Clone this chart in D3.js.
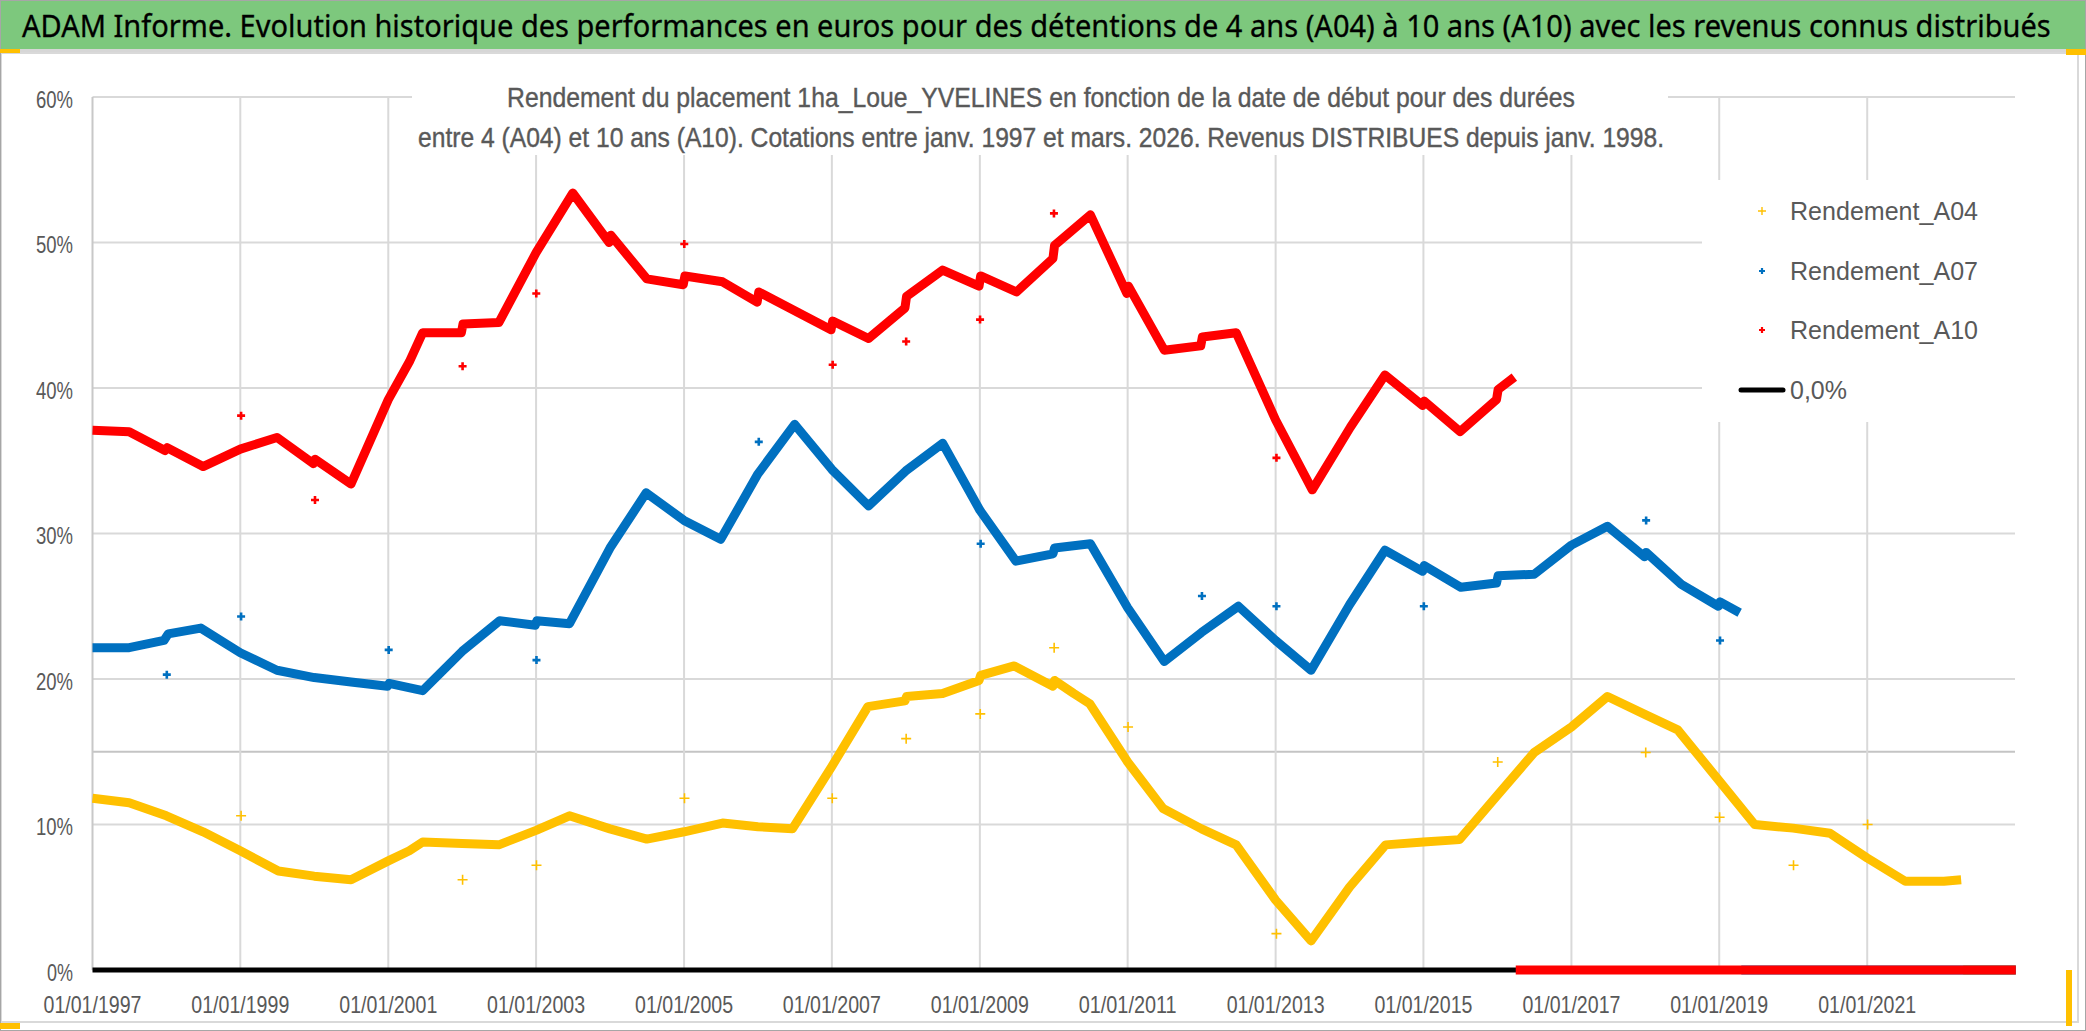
<!DOCTYPE html>
<html><head><meta charset="utf-8">
<script src="https://cdn.jsdelivr.net/npm/d3@7"></script>
<style>html,body{margin:0;padding:0;background:#fff;}svg{display:block;}</style>
</head><body>
<svg id="c" width="2086" height="1031"></svg>
<script>
// ---------- DATA ----------
const titleText = "ADAM Informe. Evolution historique des performances en euros pour des détentions de 4 ans (A04) à 10 ans (A10) avec les revenus connus distribués";
const subtitleLines = [
  "Rendement du placement 1ha_Loue_YVELINES en fonction de la date de début pour des durées",
  "entre 4 (A04) et 10 ans (A10). Cotations entre janv. 1997 et mars. 2026. Revenus DISTRIBUES depuis janv. 1998."
];
const seriesNames = ["Rendement_A04", "Rendement_A07", "Rendement_A10"];
const zeroLabel = "0,0%";
const yTicks = [0, 10, 20, 30, 40, 50, 60];
const extraLine = 15;
const xTickYears = [1997, 1999, 2001, 2003, 2005, 2007, 2009, 2011, 2013, 2015, 2017, 2019, 2021];

const A10 = [
 ["1997-01-01",37.1],["1997-07-01",37.0],["1997-12-25",35.7],["1998-01-05",35.9],["1998-07-01",34.6],
 ["1999-01-01",35.8],["1999-07-01",36.6],["1999-12-28",34.8],["2000-01-05",35.1],["2000-07-01",33.4],
 ["2001-01-01",39.2],["2001-04-15",41.8],["2001-06-20",43.8],["2001-12-28",43.8],["2002-01-05",44.4],
 ["2002-07-01",44.5],["2003-01-01",49.3],["2003-07-01",53.4],["2003-12-28",50.0],["2004-01-05",50.5],
 ["2004-07-01",47.5],["2004-12-28",47.1],["2005-01-05",47.7],["2005-07-10",47.3],["2005-12-28",45.9],
 ["2006-01-05",46.6],["2006-12-28",44.0],["2007-01-05",44.6],["2007-07-01",43.4],["2007-12-28",45.5],
 ["2008-01-05",46.3],["2008-07-01",48.1],["2008-12-28",47.0],["2009-01-05",47.7],["2009-07-01",46.6],
 ["2009-12-28",48.9],["2010-01-05",49.8],["2010-07-01",51.9],["2010-12-28",46.5],["2011-01-05",47.0],
 ["2011-07-01",42.6],["2011-12-28",42.9],["2012-01-05",43.5],["2012-06-20",43.8],["2013-01-01",37.8],
 ["2013-07-01",33.0],["2014-01-05",37.3],["2014-06-25",40.9],["2014-12-28",38.8],["2015-01-05",39.1],
 ["2015-07-01",37.0],["2015-12-28",39.2],["2016-01-05",39.9],["2016-03-25",40.75]
];
const A10_out = [
 ["1999-01-05",38.1],["2000-01-05",32.3],["2002-01-03",41.5],["2003-01-02",46.5],["2005-01-02",49.9],
 ["2007-01-05",41.6],["2008-01-03",43.2],["2009-01-02",44.7],["2010-01-02",52.0],["2013-01-05",35.2]
];
const A07 = [
 ["1997-01-01",22.15],["1997-07-01",22.15],["1997-12-20",22.65],["1998-01-10",23.1],["1998-06-20",23.5],
 ["1999-01-01",21.8],["1999-07-01",20.6],["2000-01-01",20.1],["2000-07-01",19.8],["2000-12-28",19.5],
 ["2001-01-05",19.7],["2001-06-20",19.2],["2002-01-01",21.9],["2002-07-05",24.0],["2002-12-28",23.7],
 ["2003-01-05",24.0],["2003-06-15",23.8],["2004-01-01",29.0],["2004-06-28",32.8],["2005-01-01",30.9],
 ["2005-07-01",29.6],["2006-01-01",34.1],["2006-07-01",37.5],["2007-01-01",34.4],["2007-07-01",31.9],
 ["2008-01-01",34.3],["2008-07-01",36.2],["2009-01-01",31.6],["2009-06-28",28.1],["2009-12-28",28.6],
 ["2010-01-05",29.0],["2010-07-01",29.3],["2011-01-01",24.9],["2011-07-01",21.2],["2012-01-01",23.2],
 ["2012-07-01",25.0],["2013-01-01",22.65],["2013-06-25",20.6],["2014-01-01",25.1],["2014-06-25",28.85],
 ["2014-12-28",27.4],["2015-01-05",27.8],["2015-07-05",26.3],["2015-12-28",26.6],["2016-01-05",27.1],
 ["2016-07-01",27.2],["2017-01-01",29.2],["2017-06-28",30.5],["2017-12-28",28.4],["2018-01-05",28.7],
 ["2018-06-28",26.5],["2018-12-28",25.0],["2019-01-05",25.3],["2019-04-12",24.55]
];
const A07_out = [
 ["1998-01-03",20.3],["1999-01-05",24.3],["2001-01-03",22.0],["2003-01-03",21.3],["2006-01-05",36.3],
 ["2009-01-05",29.3],["2012-01-03",25.7],["2013-01-05",25.0],["2015-01-03",25.0],["2018-01-05",30.9],
 ["2019-01-05",22.65]
];
const A04 = [
 ["1997-01-01",11.8],["1997-07-01",11.5],["1998-01-01",10.6],["1998-07-01",9.5],["1999-01-01",8.2],
 ["1999-07-08",6.8],["2000-01-01",6.45],["2000-07-01",6.2],["2001-01-01",7.5],["2001-04-15",8.2],
 ["2001-06-20",8.8],["2002-01-01",8.7],["2002-07-01",8.6],["2003-01-01",9.6],["2003-06-15",10.6],
 ["2004-01-01",9.7],["2004-07-01",9.0],["2005-01-01",9.5],["2005-07-10",10.1],["2006-01-01",9.85],
 ["2006-06-20",9.7],["2007-01-01",14.0],["2007-06-28",18.1],["2007-12-28",18.5],["2008-01-05",18.8],
 ["2008-07-01",19.0],["2008-12-28",19.9],["2009-01-05",20.25],["2009-06-20",20.9],["2009-12-28",19.5],
 ["2010-01-05",19.9],["2010-04-10",19.0],["2010-06-28",18.3],["2011-01-01",14.3],["2011-06-25",11.1],
 ["2012-01-01",9.7],["2012-06-20",8.6],["2013-01-01",4.8],["2013-06-25",2.0],["2014-01-01",5.7],
 ["2014-06-28",8.6],["2015-01-01",8.8],["2015-06-28",8.96],["2016-01-01",12.0],["2016-07-01",14.95],
 ["2017-01-01",16.7],["2017-06-28",18.8],["2018-01-01",17.55],["2018-06-10",16.5],["2019-01-01",13.0],
 ["2019-06-25",10.0],["2020-01-01",9.75],["2020-07-01",9.4],["2021-01-01",7.7],["2021-07-08",6.1],
 ["2022-01-15",6.1],["2022-04-10",6.2]
];
const A04_out = [
 ["1999-01-05",10.6],["2002-01-03",6.2],["2003-01-03",7.2],["2005-01-03",11.8],["2007-01-03",11.8],
 ["2008-01-03",15.9],["2009-01-03",17.6],["2010-01-03",22.15],["2011-01-03",16.7],["2013-01-05",2.5],
 ["2016-01-03",14.3],["2018-01-03",14.95],["2019-01-03",10.5],["2020-01-03",7.2],["2021-01-03",10.0]
];
// values equal to zero once a holding period runs past the last quote
const A04_zero = [["2022-04-20",0],["2023-01-05",0]];
const A07_zero = [["2019-04-20",0],["2023-01-05",0]];
const A10_zero = [["2016-04-01",0],["2023-01-05",0]];
const zeroLine = [["1997-01-01",0],["2023-01-05",0]];

// ---------- CHART ----------
const W = 2086, H = 1031;
const colors = {A04:"#FFC000", A07:"#0070C0", A10:"#FF0000"};
const svg = d3.select("#c");
const parse = d3.timeParse("%Y-%m-%d");
const x = d3.scaleTime().domain([new Date(1997,0,1), new Date(2023,0,1)]).range([92.5, 2015]);
const y = d3.scaleLinear().domain([0, 60]).range([970, 97]);
const fontReg = "'Liberation Sans',Arial,sans-serif";

// background
svg.append("rect").attr("x",0).attr("y",0).attr("width",W).attr("height",H).attr("fill","#fff");
// title bar
svg.append("rect").attr("x",0).attr("y",0).attr("width",W).attr("height",49).attr("fill","#7DC87D");
svg.append("rect").attr("x",0).attr("y",49).attr("width",W).attr("height",4).attr("fill","#D6D6D6");
const titleG = svg.append("g");
const titleT = titleG.append("text").attr("x",0).attr("y",0)
  .attr("font-family","'Noto Sans','Liberation Sans',sans-serif").attr("font-size",30).attr("fill","#000")
  .attr("stroke","#000").attr("stroke-width",0.3).text(titleText);
const natW = titleT.node().getComputedTextLength();
titleG.attr("transform",`translate(22,37) scale(${2030/natW},1)`);

// chart area frame
svg.append("rect").attr("x",1).attr("y",53).attr("width",2077).attr("height",969)
  .attr("fill","none").attr("stroke","#D9D9D9").attr("stroke-width",2);

// gridlines
const g = svg.append("g");
g.selectAll("line.h").data(yTicks).join("line")
  .attr("x1",92.5).attr("x2",2015).attr("y1",d=>y(d)).attr("y2",d=>y(d))
  .attr("stroke","#D9D9D9").attr("stroke-width",2);
g.append("line").attr("x1",92.5).attr("x2",2015).attr("y1",y(extraLine)).attr("y2",y(extraLine))
  .attr("stroke","#C4C4C4").attr("stroke-width",2);
g.selectAll("line.v").data(xTickYears).join("line")
  .attr("x1",d=>x(new Date(d,0,1))).attr("x2",d=>x(new Date(d,0,1)))
  .attr("y1",y(60)).attr("y2",y(0))
  .attr("stroke",d=>d===1997?"#C8C8C8":"#D9D9D9").attr("stroke-width",2);

// y labels
svg.append("g").selectAll("text").data(yTicks).join("text")
  .attr("x",73).attr("y",d=>y(d)+2).attr("dy","0.36em").attr("text-anchor","end")
  .attr("font-family",fontReg).attr("font-size",24).attr("fill","#595959")
  .attr("textLength",d=>d===0?26:37).attr("lengthAdjust","spacingAndGlyphs")
  .text(d=>d+"%");
// x labels
const fmt = d3.timeFormat("%d/%m/%Y");
svg.append("g").selectAll("text").data(xTickYears).join("text")
  .attr("x",d=>x(new Date(d,0,1))).attr("y",1004).attr("dy","0.36em").attr("text-anchor","middle")
  .attr("font-family",fontReg).attr("font-size",24).attr("fill","#595959")
  .attr("textLength",98).attr("lengthAdjust","spacingAndGlyphs")
  .text(d=>fmt(new Date(d,0,1)));

// subtitle box & legend box (cover gridlines)
svg.append("rect").attr("x",412).attr("y",55).attr("width",1256).attr("height",100).attr("fill","#fff");
svg.append("rect").attr("x",1702).attr("y",180).attr("width",314).attr("height",242).attr("fill","#fff");

subtitleLines.forEach((t,i)=>{
  svg.append("text").attr("x",1041).attr("y",[97,137][i]).attr("dy","0.36em").attr("text-anchor","middle")
    .attr("font-family",fontReg).attr("font-size",28).attr("fill","#595959")
    .attr("stroke","#595959").attr("stroke-width",0.4)
    .attr("textLength",[1068,1246][i]).attr("lengthAdjust","spacingAndGlyphs").text(t);
});

// lines
const line = d3.line().x(d=>x(parse(d[0]))).y(d=>y(d[1]));
const plot = svg.append("g");
plot.append("path").attr("d",line(zeroLine)).attr("fill","none").attr("stroke","#000").attr("stroke-width",5);
[[A04_zero,colors.A04],[A07_zero,colors.A07],[A10_zero,colors.A10]].forEach(([d,c])=>{
  plot.append("path").attr("d",line(d)).attr("fill","none").attr("stroke",c).attr("stroke-width",9);
});
[[A04,colors.A04,9],[A07,colors.A07,9],[A10,colors.A10,9]].forEach(([d,c,w])=>{
  plot.append("path").attr("d",line(d)).attr("fill","none").attr("stroke",c)
    .attr("stroke-width",w).attr("stroke-linejoin","round");
});

// "+" markers
function plus(sel, data, color, arm, sw){
  sel.selectAll(null).data(data).join("path")
    .attr("d",d=>{const px=x(parse(d[0])), py=y(d[1]);
      return `M${px-arm},${py}H${px+arm}M${px},${py-arm}V${py+arm}`;})
    .attr("stroke",color).attr("stroke-width",sw).attr("fill","none");
}
plus(plot, A04_out, colors.A04, 5, 1.6);
plus(plot, A07_out, colors.A07, 4, 2.6);
plus(plot, A10_out, colors.A10, 4, 2.6);

// legend
const leg = svg.append("g");
const rowsY = [211, 271, 330];
const legCols = [colors.A04, colors.A07, colors.A10];
seriesNames.forEach((n,i)=>{
  const mx=1762, my=rowsY[i];
  const arm = i===0?4:3, sw = i===0?1.4:2.2;
  leg.append("path").attr("d",`M${mx-arm},${my}H${mx+arm}M${mx},${my-arm}V${my+arm}`)
    .attr("stroke",legCols[i]).attr("stroke-width",sw);
  leg.append("text").attr("x",1790).attr("y",my).attr("dy","0.36em")
    .attr("font-family",fontReg).attr("font-size",25).attr("fill","#595959")
    .attr("textLength",188).attr("lengthAdjust","spacingAndGlyphs").text(n);
});
leg.append("line").attr("x1",1741).attr("x2",1783).attr("y1",390).attr("y2",390)
  .attr("stroke","#000").attr("stroke-width",5).attr("stroke-linecap","round");
leg.append("text").attr("x",1790).attr("y",390).attr("dy","0.36em")
  .attr("font-family",fontReg).attr("font-size",25).attr("fill","#595959").text(zeroLabel);

// outer border and selection marks
svg.append("rect").attr("x",0.5).attr("y",0.5).attr("width",W-1).attr("height",H-1)
  .attr("fill","none").attr("stroke","#A6A6A6").attr("stroke-width",1);
svg.append("rect").attr("x",0).attr("y",49).attr("width",20).attr("height",4).attr("fill","#FFC000");
svg.append("rect").attr("x",0).attr("y",1023).attr("width",20).attr("height",6).attr("fill","#FFC000");
svg.append("rect").attr("x",2066).attr("y",49).attr("width",20).attr("height",6).attr("fill","#FFC000");
svg.append("rect").attr("x",2066).attr("y",970).attr("width",6).attr("height",56).attr("fill","#FFC000");
</script>
</body></html>
